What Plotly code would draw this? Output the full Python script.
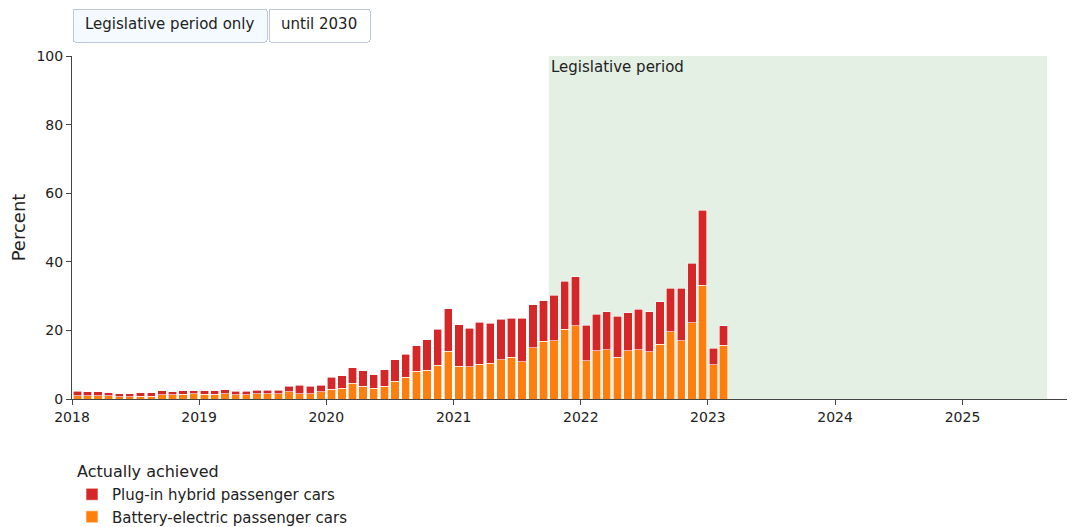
import pandas as pd
import plotly.graph_objects as go

months = pd.date_range("2018-01-01", periods=62, freq="MS")

bev = [1.0, 1.0, 1.0, 0.9, 0.7, 0.7, 0.8, 0.8, 1.2, 1.2, 1.4, 1.5,
       1.4, 1.4, 1.5, 1.2, 1.2, 1.6, 1.6, 1.5, 2.1, 1.5, 1.6, 2.1,
       2.9, 3.2, 4.6, 3.7, 3.2, 3.7, 5.2, 6.3, 8.1, 8.4, 9.9, 13.9,
       9.5, 9.4, 10.2, 10.4, 11.4, 12.2, 10.8, 15.0, 16.9, 17.0, 20.3, 21.3,
       11.1, 14.0, 14.3, 12.2, 14.0, 14.3, 13.8, 15.9, 19.6, 17.0, 22.2, 33.1,
       10.0, 15.7]

phev = [1.2, 1.1, 1.1, 0.9, 0.8, 0.8, 1.0, 1.0, 1.2, 0.9, 1.0, 0.9,
        1.0, 1.0, 1.2, 1.1, 1.1, 1.0, 1.0, 1.1, 1.6, 2.5, 2.1, 1.9,
        3.4, 3.6, 4.5, 4.6, 3.9, 4.8, 6.2, 6.8, 7.4, 8.9, 10.4, 12.4,
        12.1, 11.3, 12.2, 11.7, 11.8, 11.3, 12.7, 12.5, 11.8, 13.3, 14.0, 14.4,
        10.4, 10.7, 11.2, 11.9, 11.2, 11.8, 11.7, 12.5, 12.7, 15.3, 17.4, 22.0,
        4.8, 5.6]

series_names = ["Battery-electric passenger cars", "Plug-in hybrid passenger cars"]
series_colors = ["#ff7f0e", "#d62728"]
legislative_start = "2021-10-01"
legislative_end = "2025-09-01"
range_legislative = ["2018-01-01", "2025-11-20"]
range_2030 = ["2018-01-01", "2030-12-31"]
y_ticks = [0, 20, 40, 60, 80, 100]

FONT = "DejaVu Sans"
bar_width = 24 * 86400000

fig = go.Figure()
for name, vals, col in zip(series_names, [bev, phev], series_colors):
    fig.add_trace(go.Bar(
        x=months, y=vals, name=name,
        marker=dict(color=col, line=dict(color="white", width=0.6)),
        xperiod="M1", xperiodalignment="middle",
        width=bar_width,
        legendgroup="achieved",
        legendgrouptitle_text="Actually achieved",
    ))

fig.add_vrect(
    x0=legislative_start, x1=legislative_end,
    fillcolor="#e5f0e4", opacity=1, line_width=0, layer="below",
    annotation_text="Legislative period", annotation_position="top left",
    annotation=dict(font=dict(family=FONT, size=15, color="#222")),
)

fig.update_layout(
    width=1075, height=527,
    barmode="stack",
    bargap=0.2,
    plot_bgcolor="white", paper_bgcolor="white",
    font=dict(family=FONT, size=14, color="#222"),
    margin=dict(l=64, r=8, t=48, b=136, autoexpand=False),
    xaxis=dict(
        type="date", range=range_legislative,
        dtick="M12", tickformat="%Y", ticks="outside", ticklen=5,
        showline=True, linecolor="#444", linewidth=1, showgrid=False,
        tickfont=dict(size=14), automargin=False,
    ),
    yaxis=dict(
        range=[0, 100], tickvals=y_ticks, ticks="outside", ticklen=5,
        showline=True, linecolor="#444", linewidth=1, showgrid=False,
        zeroline=False, automargin=False,
        title=dict(text="Percent", font=dict(size=18), standoff=10),
        tickfont=dict(size=14),
    ),
    legend=dict(
        x=0.0, xanchor="left", y=-0.161, yanchor="top",
        traceorder="reversed+grouped", orientation="v",
        font=dict(size=15), grouptitlefont=dict(size=16),
    ),
    updatemenus=[dict(
        type="buttons", direction="right", active=0,
        x=0.0, xanchor="left", y=1.139, yanchor="top",
        pad=dict(l=0, r=0, t=0, b=0),
        showactive=True,
        font=dict(size=15),
        buttons=[
            dict(label="Legislative period only", method="relayout",
                 args=[{"xaxis.range": range_legislative}]),
            dict(label="until 2030", method="relayout",
                 args=[{"xaxis.range": range_2030}]),
        ],
    )],
)

fig.write_html("out.html")
